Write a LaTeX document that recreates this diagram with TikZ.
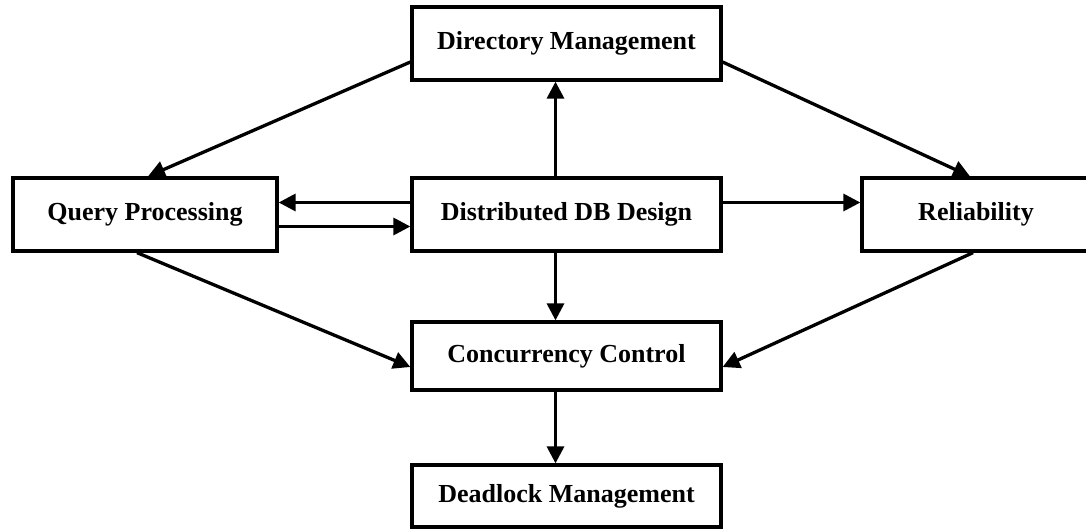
\documentclass[tikz,border=0pt]{standalone}
\usepackage{fontspec}
\setmainfont{Liberation Serif}
\usetikzlibrary{arrows.meta}
\begin{document}
\begin{tikzpicture}[x=1pt,y=-1pt,
  topic/.style={draw, line width=3.3pt, rectangle, inner sep=0pt,
    font=\fontsize{26}{29}\selectfont\bfseries},
  link/.style={line width=3.3pt, -{Triangle[length=17pt,width=17pt]}}]
\fill[white] (0,0) rectangle (1086,531);
\clip (0,0) rectangle (1086,531);

% topic boxes
\node[topic, minimum width=309pt, minimum height=73pt] (dir) at (566.5,43.5) {Directory Management};
\node[topic, minimum width=264pt, minimum height=73pt] (qp)  at (145,214.5) {Query Processing};
\node[topic, minimum width=309pt, minimum height=73pt] (ddb) at (566.5,214.5) {Distributed DB Design};
\node[topic, minimum width=228pt, minimum height=73pt] (rel) at (976,214.5) {Reliability};
\node[topic, minimum width=309pt, minimum height=68pt] (cc)  at (566.5,356) {Concurrency Control};
\node[topic, minimum width=309pt, minimum height=62pt] (dl)  at (566.5,496) {Deadlock Management};

% vertical links through the centre column
\draw[link] ([xshift=-11pt]ddb.north) -- ([xshift=-11pt]dir.south);
\draw[link] ([xshift=-11pt]ddb.south) -- ([xshift=-11pt]cc.north);
\draw[link] ([xshift=-11pt]cc.south) -- ([xshift=-11pt]dl.north);

% horizontal links
\draw[link] ([yshift=12pt]ddb.west) -- ([yshift=12pt]qp.east);
\draw[link] ([yshift=-12pt]qp.east) -- ([yshift=-12pt]ddb.west);
\draw[link] ([yshift=12pt]ddb.east) -- ([yshift=12pt]rel.west);

% diagonal links
\draw[link] ([yshift=-18.5pt]dir.west) -- ([xshift=3pt]qp.north);
\draw[link] ([yshift=-18.5pt]dir.east) -- ([xshift=-6pt]rel.north);
\draw[link] ([xshift=-8pt]qp.south) -- ([yshift=-11pt]cc.west);
\draw[link] ([xshift=-3pt]rel.south) -- ([yshift=-11pt]cc.east);
\end{tikzpicture}
\end{document}
